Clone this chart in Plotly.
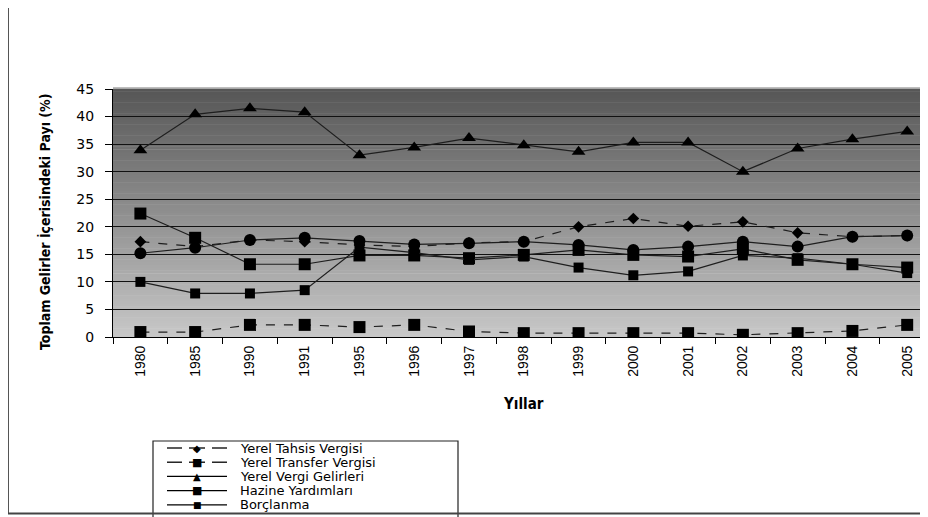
import plotly.graph_objects as go

# ---------------- data ----------------
years = ["1980", "1985", "1990", "1991", "1995", "1996", "1997", "1998",
         "1999", "2000", "2001", "2002", "2003", "2004", "2005"]

yerel_tahsis = [17.3, 16.4, 17.6, 17.3, 16.7, 16.4, 17.1, 17.3, 20.0, 21.5, 20.1, 20.9, 18.9, 18.2, 18.4]
yerel_transfer = [0.9, 0.9, 2.2, 2.2, 1.8, 2.2, 1.0, 0.7, 0.7, 0.7, 0.7, 0.4, 0.7, 1.1, 2.2]
yerel_vergi = [33.9, 40.4, 41.5, 40.8, 33.0, 34.4, 36.1, 34.8, 33.6, 35.3, 35.3, 30.0, 34.2, 35.9, 37.3]
hazine = [22.4, 18.0, 13.2, 13.2, 14.8, 14.8, 14.3, 14.9, 15.8, 14.9, 14.6, 16.0, 14.0, 13.2, 12.6]
borclanma = [10.0, 7.9, 7.9, 8.5, 16.3, 15.3, 14.0, 14.6, 12.6, 11.2, 11.9, 14.8, 14.3, 13.2, 11.6]
diger = [15.2, 16.2, 17.6, 18.0, 17.4, 16.8, 17.0, 17.3, 16.7, 15.8, 16.4, 17.3, 16.4, 18.2, 18.4]

series_names = ["Yerel Tahsis Vergisi", "Yerel Transfer Vergisi", "Yerel Vergi Gelirleri",
                "Hazine Yardımları", "Borçlanma", "Diğer Gelirler"]
y_ticks = [0, 5, 10, 15, 20, 25, 30, 35, 40, 45]
y_title = "Toplam Gelirler İçerisindeki Payı (%)"
x_title = "Yıllar"

# ---------------- geometry helpers ----------------
O = 8                      # page body margin offset
W, H = 928 - O, 517 - O
L, R, T, B = 113 - O, 0, 89 - O, 180
PW, PH = W - L - R, H - T - B


def px(x):
    """reference page x pixel -> paper x"""
    return (x - O - L) / PW


def py(y):
    """reference page y pixel -> paper y"""
    return (H - B - (y - O)) / PH


LINE = "#1e1e1e"
styles = [
    dict(symbol="diamond", size=9, dash="dash"),
    dict(symbol="square", size=12, dash="dash"),
    dict(symbol="triangle-up", size=12, dash="solid"),
    dict(symbol="square", size=12, dash="solid"),
    dict(symbol="square", size=10, dash="solid"),
    dict(symbol="circle", size=12, dash="solid"),
]
all_series = [yerel_tahsis, yerel_transfer, yerel_vergi, hazine, borclanma, diger]

fig = go.Figure()
for name, vals, st in zip(series_names, all_series, styles):
    fig.add_trace(go.Scatter(
        x=years, y=vals, name=name, mode="lines+markers",
        line=dict(color=LINE, width=1.2, dash=st["dash"]),
        marker=dict(symbol=st["symbol"], size=st["size"], color="black",
                    line=dict(width=0)),
        showlegend=False,
    ))

shapes = []
# gradient plot background
N = 90
top_c, bot_c = 0x56, 0xc8
for i in range(N):
    t0, t1 = i / N, (i + 1) / N
    v = int(round(bot_c + (top_c - bot_c) * (t0 + t1) / 2))
    col = f"rgb({v},{v},{v})"
    shapes.append(dict(type="rect", xref="x domain", yref="y domain",
                       x0=0, x1=1, y0=t0, y1=t1 + 0.002,
                       fillcolor=col, line=dict(width=0), layer="below"))
# light top border of plot area
shapes.append(dict(type="line", xref="x domain", yref="y domain", x0=0, x1=1, y0=1.004, y1=1.004,
                   line=dict(color="#a8a8a8", width=1.5)))
# legend box
shapes.append(dict(type="rect", xref="paper", yref="paper",
                   x0=px(153), x1=px(458), y0=py(540), y1=py(441),
                   line=dict(color="#222222", width=1.2), fillcolor="white"))

annotations = []
row0, rstep = 448, 14.2
glyphs = ["◆", "■", "▲", "■", "■"]
gsize = [10, 11, 10, 11, 9]
for i in range(5):
    yc = row0 + i * rstep
    if styles[i]["dash"] == "dash":
        segs = [(167, 182), (189, 205), (212, 227)]
    else:
        segs = [(167, 227)]
    for a, b in segs:
        shapes.append(dict(type="line", xref="paper", yref="paper",
                           x0=px(a), x1=px(b), y0=py(yc), y1=py(yc),
                           line=dict(color="black", width=1.3)))
    annotations.append(dict(xref="paper", yref="paper", x=px(197), y=py(yc),
                            text=glyphs[i], showarrow=False, xanchor="center", yanchor="middle",
                            font=dict(family="DejaVu Sans", size=gsize[i], color="black")))
    annotations.append(dict(xref="paper", yref="paper", x=px(238), y=py(yc),
                            text=series_names[i], showarrow=False, xanchor="left", yanchor="middle",
                            font=dict(family="DejaVu Sans", size=13, color="black")))

# outer frame (left and bottom edges visible; drawn after legend)
shapes.append(dict(type="line", xref="paper", yref="paper",
                   x0=px(8), x1=px(8), y0=py(514), y1=py(0),
                   line=dict(color="#555555", width=2)))
shapes.append(dict(type="line", xref="paper", yref="paper",
                   x0=px(7), x1=px(940), y0=py(513.5), y1=py(513.5),
                   line=dict(color="#444444", width=2)))

# axis titles
annotations.append(dict(xref="paper", yref="paper", x=px(45), y=py(222), text=y_title,
                        textangle=-90, showarrow=False, xanchor="center", yanchor="middle",
                        font=dict(family="Liberation Sans Narrow, DejaVu Sans Condensed, sans-serif",
                                  size=14, color="black", weight="bold")))
annotations.append(dict(xref="paper", yref="paper", x=px(523), y=py(404), text=x_title,
                        showarrow=False, xanchor="center", yanchor="middle",
                        font=dict(family="Liberation Sans Narrow, DejaVu Sans Condensed, sans-serif",
                                  size=15, color="black", weight="bold")))

fig.update_layout(
    width=W, height=H,
    margin=dict(l=L, r=R, t=T, b=B),
    paper_bgcolor="white", plot_bgcolor="rgba(0,0,0,0)",
    shapes=shapes, annotations=annotations,
    showlegend=False,
)
fig.update_xaxes(
    type="category", range=[-0.5, 14.38],
    showgrid=False, showline=True, linecolor="black", linewidth=1.2,
    ticks="outside", tickson="boundaries", ticklen=6, tickcolor="black", tickwidth=1,
    tickangle=-90, ticklabelstandoff=2,
    tickfont=dict(family="Liberation Sans, Arial, sans-serif", size=14, color="black"),
)
fig.update_yaxes(
    range=[0, 45], tickvals=y_ticks,
    showgrid=True, gridcolor="#111111", gridwidth=1.2,
    showline=True, linecolor="black", linewidth=1.2,
    ticks="outside", ticklen=7, tickcolor="black", tickwidth=1,
    ticklabelstandoff=8, zeroline=False,
    tickfont=dict(family="DejaVu Sans", size=14, color="black"),
)

fig.write_html("out.html")
